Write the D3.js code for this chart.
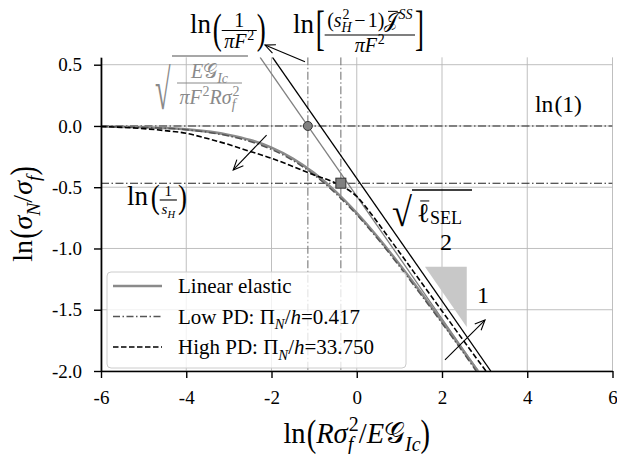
<!DOCTYPE html>
<html>
<head>
<meta charset="utf-8">
<script src="https://cdn.jsdelivr.net/npm/d3@7"></script>
<style>
  body { margin: 0; background: #fff; }
  text { font-family: "Liberation Serif", "DejaVu Serif", serif; }
</style>
</head>
<body>
<svg id="chart" width="617" height="454"></svg>
<script>
// ---- data ----
var xTicks = [-6, -4, -2, 0, 2, 4, 6];
var yTicks = [0.5, 0.0, -0.5, -1.0, -1.5, -2.0];

// linear elastic
var xLE = [-6, -5, -4, -3, -2.5, -2, -1.5, -1, -0.5, 0, 0.5, 1, 1.5, 2, 2.5, 2.84];
var yLE = [-0.004, -0.011, -0.028, -0.073, -0.115, -0.177, -0.266, -0.385, -0.534, -0.711, -0.911, -1.129, -1.358, -1.594, -1.837, -2.0];
// low PD, Pi_N/h = 0.417
var xLow = [-6, -5, -4, -3, -2.5, -2, -1.5, -1, -0.5, 0, 0.5, 1, 1.5, 2, 2.5, 2.8];
var yLow = [-0.004, -0.012, -0.031, -0.082, -0.127, -0.192, -0.281, -0.4, -0.55, -0.725, -0.925, -1.145, -1.375, -1.61, -1.85, -2.0];
// high PD, Pi_N/h = 33.750
var xHigh = [-6, -5, -4.5, -4, -3.5, -3, -2.5, -2, -1.5, -1, -0.6, -0.3, 0, 0.3, 0.6, 1, 1.5, 2, 2.5, 3.03];
var yHigh = [-0.004, -0.022, -0.038, -0.06, -0.103, -0.152, -0.208, -0.264, -0.33, -0.4, -0.45, -0.5, -0.575, -0.7, -0.84, -1.03, -1.27, -1.51, -1.75, -2.0];

// slope -1/2 asymptotes (end points)
var xAsymGray = [-2.267, 2.853], yAsymGray = [0.56, -2.0];
var xAsymBlack = [-1.976, 3.144], yAsymBlack = [0.56, -2.0];

// reference levels
var yLnOne = 0.0, yLnInvSH = -0.467;
var xLnInvPiF2 = -1.147, xLnSS = -0.373;

// slope triangle
var xTri = [1.6, 2.58, 2.58], yTri = [-1.15, -1.15, -1.64];

// arrows [x0, y0, x1, y1] (head at x1, y1)
var arrows = [[-1.214, 0.524, -2.153, 0.660], [-2.115, -0.074, -2.898, -0.359], [2.07, -1.91, 3.009, -1.584]];

// ---- layout ----
var svg = d3.select("#chart");
var x = d3.scaleLinear().domain([-6, 6]).range([101, 612.5]);
var y = d3.scaleLinear().domain([-2, 0.56]).range([371, 57.35]);

function pts(xs, ys) { return xs.map(function (d, i) { return [d, ys[i]]; }); }
var line = d3.line().x(function (d) { return x(d[0]); }).y(function (d) { return y(d[1]); });
var smooth = d3.line().curve(d3.curveMonotoneX).x(function (d) { return x(d[0]); }).y(function (d) { return y(d[1]); });

svg.append("defs").append("clipPath").attr("id", "clip").append("rect")
  .attr("x", x(-6)).attr("y", y(0.56)).attr("width", x(6) - x(-6)).attr("height", y(-2) - y(0.56));
svg.select("defs").append("marker").attr("id", "head").attr("viewBox", "-12 -7 14 14")
  .attr("markerWidth", 14).attr("markerHeight", 14).attr("markerUnits", "userSpaceOnUse")
  .attr("orient", "auto")
  .append("path").attr("d", "M-10,-4.5 L0,0 L-10,4.5").attr("fill", "none").attr("stroke", "#000").attr("stroke-width", 1.1);

// grid
var grid = svg.append("g");
grid.selectAll(".gx").data(xTicks).enter().append("line")
  .attr("x1", x).attr("x2", x).attr("y1", y(0.56)).attr("y2", y(-2))
  .attr("stroke", "#b8b8b8").attr("stroke-width", 0.9);
grid.selectAll(".gy").data(yTicks).enter().append("line")
  .attr("x1", x(-6)).attr("x2", x(6)).attr("y1", y).attr("y2", y)
  .attr("stroke", "#b8b8b8").attr("stroke-width", 0.9);

var plot = svg.append("g").attr("clip-path", "url(#clip)");

// slope triangle
plot.append("path").attr("d", line(pts(xTri, yTri)) + "Z").attr("fill", "#c8c8c8");

// reference lines
plot.selectAll(".href").data([yLnOne, yLnInvSH]).enter().append("line")
  .attr("x1", x(-6)).attr("x2", x(6)).attr("y1", y).attr("y2", y)
  .attr("stroke", "#222").attr("stroke-width", 1.1).attr("stroke-dasharray", "8,2.5,1.5,2.5");
plot.selectAll(".vref").data([xLnInvPiF2, xLnSS]).enter().append("line")
  .attr("x1", x).attr("x2", x).attr("y1", y(0.56)).attr("y2", y(-2))
  .attr("stroke", "#777").attr("stroke-width", 1.1).attr("stroke-dasharray", "8,2.5,1.5,2.5");

// asymptotes
plot.append("path").attr("d", line(pts(xAsymGray, yAsymGray))).attr("fill", "none")
  .attr("stroke", "#808080").attr("stroke-width", 1.3);
plot.append("path").attr("d", line(pts(xAsymBlack, yAsymBlack))).attr("fill", "none")
  .attr("stroke", "#000").attr("stroke-width", 1.3);

// curves
plot.append("path").attr("d", smooth(pts(xLE, yLE))).attr("fill", "none")
  .attr("stroke", "#8a8a8a").attr("stroke-width", 2.6);
plot.append("path").attr("d", smooth(pts(xLow, yLow))).attr("fill", "none")
  .attr("stroke", "#555").attr("stroke-width", 1.5).attr("stroke-dasharray", "7,2.5,1.5,2.5");
plot.append("path").attr("d", smooth(pts(xHigh, yHigh))).attr("fill", "none")
  .attr("stroke", "#000").attr("stroke-width", 1.6).attr("stroke-dasharray", "5.5,2.5");

// markers
svg.append("circle").attr("cx", x(xLnInvPiF2)).attr("cy", y(yLnOne)).attr("r", 4.5)
  .attr("fill", "#808080").attr("stroke", "#333").attr("stroke-width", 1);
svg.append("rect").attr("x", x(xLnSS) - 5).attr("y", y(yLnInvSH) - 5).attr("width", 10).attr("height", 10)
  .attr("fill", "#808080").attr("stroke", "#333").attr("stroke-width", 1);

// arrows
svg.selectAll(".arr").data(arrows).enter().append("line")
  .attr("x1", function (d) { return x(d[0]); }).attr("y1", function (d) { return y(d[1]); })
  .attr("x2", function (d) { return x(d[2]); }).attr("y2", function (d) { return y(d[3]); })
  .attr("stroke", "#000").attr("stroke-width", 1.1).attr("marker-end", "url(#head)");

// axes
var ax = svg.append("g").attr("transform", "translate(0," + y(-2) + ")")
  .call(d3.axisBottom(x).tickValues(xTicks).tickSize(7).tickSizeOuter(0).tickPadding(13)
    .tickFormat(function (d) { return String(d); }));
var ay = svg.append("g").attr("transform", "translate(" + x(-6) + ",0)")
  .call(d3.axisLeft(y).tickValues(yTicks).tickSize(7).tickSizeOuter(0).tickPadding(12)
    .tickFormat(function (d) { return d.toFixed(1); }));
[ax, ay].forEach(function (a) {
  a.select(".domain").attr("stroke-width", 1.7);
  a.selectAll(".tick line").attr("stroke-width", 1.4);
  a.selectAll("text").style("font-family", "'Liberation Serif', serif").style("font-size", "19px").attr("fill", "#000");
});

// ---- math text helpers ----
function seq(g, segs, fs, color) {
  var cx = 0;
  segs.forEach(function (s) {
    if (s.sp) { cx += s.sp * fs; return; }
    if (s.frac) { cx += frac(g, cx, s, fs, color); return; }
    if (s.delim) {
      var d = g.append("text").attr("transform", "translate(" + cx + "," + (s.dy * fs) + ") scale(" + (s.kx || 1) + "," + s.k + ")")
        .style("font-size", fs + "px").attr("fill", color).text(s.delim);
      cx += d.node().getComputedTextLength() * (s.kx || 1);
      return;
    }
    var t = g.append("text").attr("x", cx).attr("y", 0).style("font-size", fs + "px")
      .style("font-style", s.i ? "italic" : "normal").attr("fill", color).text(s.t);
    var w = t.node().getComputedTextLength();
    if (s.bar) {
      g.append("line").attr("x1", cx + w * 0.25).attr("x2", cx + w * 0.95)
        .attr("y1", -fs * 0.78).attr("y2", -fs * 0.78).attr("stroke", color).attr("stroke-width", 1);
    }
    var wx = 0;
    if (s.sub) {
      var a = g.append("text").attr("x", cx + w).attr("y", fs * 0.27).style("font-size", (fs * (s.subK || 0.7)) + "px")
        .style("font-style", s.subUp ? "normal" : "italic").attr("fill", color).text(s.sub);
      wx = a.node().getComputedTextLength();
    }
    if (s.sup) {
      var b = g.append("text").attr("x", cx + w + (s.i ? fs * 0.04 : 0)).attr("y", -fs * 0.42).style("font-size", (fs * 0.7) + "px")
        .style("font-style", s.supI ? "italic" : "normal").attr("fill", color).text(s.sup);
      wx = Math.max(wx, b.node().getComputedTextLength() + (s.i ? fs * 0.04 : 0));
    }
    cx += w + wx;
  });
  return cx;
}
function frac(g, cx, s, fs, color) {
  var f = s.fs;
  var num = g.append("g"), den = g.append("g");
  var wn = seq(num, s.frac[0], f, color), wd = seq(den, s.frac[1], f, color);
  var W = Math.max(wn, wd) + f * 0.25;
  g.append("line").attr("x1", cx).attr("x2", cx + W).attr("y1", s.bar).attr("y2", s.bar)
    .attr("stroke", color).attr("stroke-width", 1.1);
  num.attr("transform", "translate(" + (cx + (W - wn) / 2) + "," + (s.bar + s.nu) + ")");
  den.attr("transform", "translate(" + (cx + (W - wd) / 2) + "," + (s.bar + s.de) + ")");
  return W;
}
function at(xd, yd) {
  return svg.append("g").attr("transform", "translate(" + x(xd) + "," + y(yd) + ")");
}
var piF2 = [{ t: "π", i: 1 }, { t: "F", i: 1, sup: "2" }];

// ln(1/(pi F^2))
seq(at(-3.91, 0.759), [{ t: "ln" }, { sp: 0.06 }, { delim: "(", k: 1.59, dy: 0.36 },
  { frac: [[{ t: "1" }], piF2], fs: 20, bar: -2.5, nu: -3, de: 17.5 },
  { delim: ")", k: 1.59, dy: 0.36 }], 27, "#000");

// ln[(s_H^2-1) J^SS / (pi F^2)]
seq(at(-1.495, 0.759), [{ t: "ln" }, { sp: 0.06 }, { delim: "[", k: 1.78, dy: 0.42 },
  { frac: [[{ delim: "(", k: 1, dy: 0 }, { t: "s", i: 1, sub: "H", sup: "2" }, { sp: 0.12 }, { t: "−" }, { sp: 0.12 }, { t: "1" },
    { delim: ")", k: 1, dy: 0 }, { t: "𝒥", bar: true, sup: "SS", supI: true }], piF2], fs: 20, bar: 2, nu: -8, de: 17 },
  { delim: "]", k: 1.78, dy: 0.42 }], 27, "#000");

// sqrt(E G_Ic / (pi F^2 R sigma_f^2)) in grey
(function () {
  var g = at(-4.733, 0.351), c = "#8a8a8a";
  g.append("text").attr("transform", "translate(0,26) scale(1.05,2.1)").style("font-size", "27px").attr("fill", c).text("√");
  var f = g.append("g").attr("transform", "translate(22,0)");
  var w = frac(f, 0, { frac: [[{ t: "E", i: 1 }, { t: "𝒢", sub: "Ic" }],
    [{ t: "π", i: 1 }, { t: "F", i: 1, sup: "2" }, { t: "R", i: 1 }, { t: "σ", i: 1, sub: "f", sup: "2" }]],
    fs: 20, bar: 0, nu: -5, de: 21 }, 20, c);
  g.append("line").attr("x1", 17).attr("x2", 22 + w + 6).attr("y1", -27).attr("y2", -27).attr("stroke", c).attr("stroke-width", 1.4);
})();

// ln(1)
seq(at(4.182, 0.114), [{ t: "ln" }, { sp: 0.05 }, { t: "(1)" }], 23.5, "#000");

// ln(1/s_H)
seq(at(-5.39, -0.645), [{ t: "ln" }, { sp: 0.1 }, { delim: "(", k: 1.25, dy: 0.11 },
  { frac: [[{ t: "1" }], [{ t: "s", i: 1, sub: "H" }]], fs: 15, bar: -5, nu: -4, de: 14 },
  { sp: 0.04 }, { delim: ")", k: 1.25, dy: 0.11 }], 27, "#000");

// sqrt(l_SEL)
(function () {
  var g = at(0.85, -0.784);
  g.append("text").attr("transform", "translate(-1,4) scale(1.35,1.5)").style("font-size", "27px").attr("fill", "#000").text("√");
  var inner = g.append("g").attr("transform", "translate(24,0)");
  var w = seq(inner, [{ t: "ℓ", bar: true }], 27, "#000");
  inner.append("text").attr("x", w).attr("y", 2).style("font-size", "18px").text("SEL");
  g.append("line").attr("x1", 19).attr("x2", 79).attr("y1", -32).attr("y2", -32).attr("stroke", "#000").attr("stroke-width", 1.5);
})();

// slope labels
at(2.094, -1.012).append("text").attr("text-anchor", "middle").style("font-size", "24px").text("2");
at(2.821, -1.445).append("text").style("font-size", "24px").text("1");

// axis labels
(function () {
  var g = svg.append("g");
  var w = seq(g, [{ t: "ln" }, { sp: 0.04 }, { delim: "(", k: 1.35, dy: 0.12 }, { t: "R", i: 1 }, { t: "σ", i: 1, sub: "f", sup: "2" },
    { t: "/" }, { t: "E", i: 1 }, { t: "𝒢", sub: "Ic" }, { delim: ")", k: 1.35, dy: 0.12 }], 28.5, "#000");
  g.attr("transform", "translate(" + (x(0) - w / 2) + ",443)");
  var h = svg.append("g");
  var wy = seq(h, [{ t: "ln" }, { sp: 0.04 }, { delim: "(", k: 1.25, dy: 0.1 }, { t: "σ", i: 1, sub: "N" }, { t: "/" },
    { t: "σ", i: 1, sub: "f" }, { delim: ")", k: 1.25, dy: 0.1 }], 28, "#000");
  h.attr("transform", "translate(32," + (214 + wy / 2) + ") rotate(-90)");
})();

// legend
(function () {
  var g = svg.append("g").attr("transform", "translate(107,272)");
  g.append("rect").attr("width", 299).attr("height", 96).attr("rx", 4)
    .attr("fill", "#fff").attr("fill-opacity", 0.8).attr("stroke", "#ccc").attr("stroke-width", 1);
  var rows = [
    { stroke: "#8a8a8a", w: 2.6, dash: null, segs: [{ t: "Linear elastic" }] },
    { stroke: "#555", w: 1.5, dash: "7,2.5,1.5,2.5", segs: [{ t: "Low PD: Π" }, { t: "", sub: "N" }, { t: "/" }, { t: "h", i: 1 }, { t: "=0.417" }] },
    { stroke: "#000", w: 1.6, dash: "5.5,2.5", segs: [{ t: "High PD: Π" }, { t: "", sub: "N" }, { t: "/" }, { t: "h", i: 1 }, { t: "=33.750" }] }
  ];
  rows.forEach(function (r, i) {
    var cy = 14 + i * 30.5;
    g.append("line").attr("x1", 6).attr("x2", 55).attr("y1", cy).attr("y2", cy)
      .attr("stroke", r.stroke).attr("stroke-width", r.w).attr("stroke-dasharray", r.dash);
    seq(g.append("g").attr("transform", "translate(71," + (cy + 7) + ")"), r.segs, 21, "#000");
  });
})();
</script>
</body>
</html>
